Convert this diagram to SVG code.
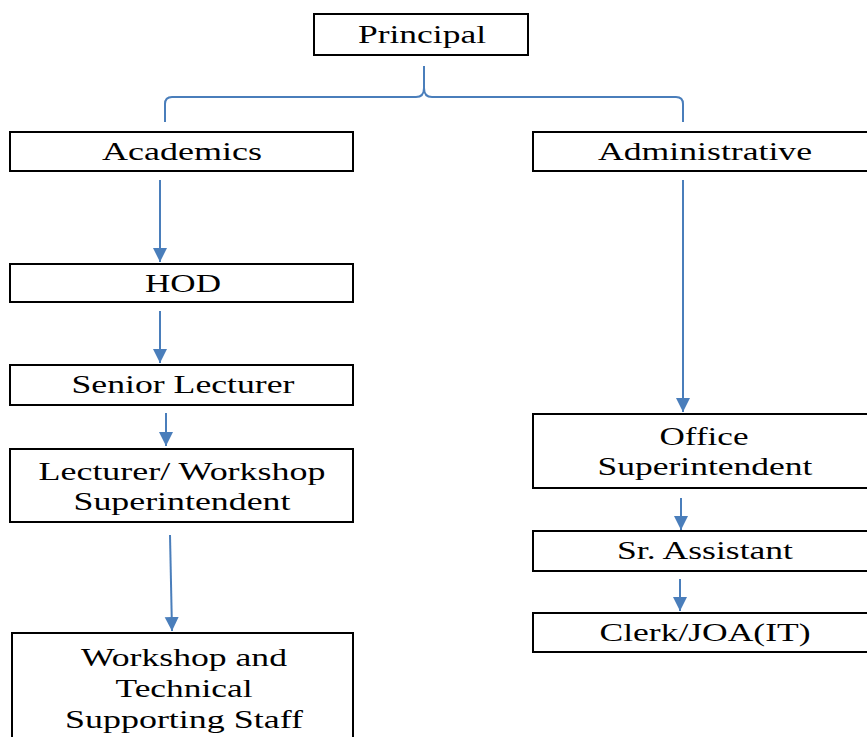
<svg xmlns="http://www.w3.org/2000/svg" width="867" height="737" viewBox="0 0 867 737">
<style>
.box{fill:#fff;stroke:#000;stroke-width:2}
.t{font-family:"Liberation Serif","Times New Roman",serif;font-size:26px;fill:#000;text-anchor:middle}
.c{fill:none;stroke:#4a7ebb;stroke-width:2}
</style>
<defs>
<marker id="ah" markerUnits="userSpaceOnUse" markerWidth="16" markerHeight="16" refX="14" refY="7" orient="auto">
<path d="M0,0 L14,7 L0,14 Z" fill="#4a7ebb"/>
</marker>
</defs>
<rect width="867" height="737" fill="#fff"/>
<g id="connectors">
<path class="c" d="M165,122 L165,104 Q165,97 172,97 L416,97 Q424,97 424,88 L424,66 M424,88 Q424,97 432,97 L676,97 Q683,97 683,104 L683,122"/>
<line class="c" x1="160" y1="180" x2="160" y2="262" marker-end="url(#ah)"/>
<line class="c" x1="160" y1="311" x2="160" y2="363" marker-end="url(#ah)"/>
<line class="c" x1="166" y1="413" x2="166" y2="446" marker-end="url(#ah)"/>
<line class="c" x1="170" y1="535" x2="172" y2="631" marker-end="url(#ah)"/>
<line class="c" x1="683" y1="180" x2="683" y2="412" marker-end="url(#ah)"/>
<line class="c" x1="681" y1="498" x2="681" y2="530" marker-end="url(#ah)"/>
<line class="c" x1="680" y1="579" x2="680" y2="611" marker-end="url(#ah)"/>
</g>
<g id="principal">
<rect class="box" x="314" y="14" width="214" height="41"/>
<text class="t" x="422" y="43" textLength="128" lengthAdjust="spacingAndGlyphs">Principal</text>
</g>
<g id="academics">
<rect class="box" x="10" y="132" width="343" height="39"/>
<text class="t" x="182" y="160" textLength="160" lengthAdjust="spacingAndGlyphs">Academics</text>
</g>
<g id="administrative">
<rect class="box" x="533" y="132" width="340" height="39"/>
<text class="t" x="705" y="160" textLength="214" lengthAdjust="spacingAndGlyphs">Administrative</text>
</g>
<g id="hod">
<rect class="box" x="10" y="264" width="343" height="38"/>
<text class="t" x="183" y="292" textLength="76" lengthAdjust="spacingAndGlyphs">HOD</text>
</g>
<g id="senior-lecturer">
<rect class="box" x="10" y="365" width="343" height="40"/>
<text class="t" x="183" y="393" textLength="223" lengthAdjust="spacingAndGlyphs">Senior Lecturer</text>
</g>
<g id="lecturer">
<rect class="box" x="10" y="449" width="343" height="73"/>
<text class="t" x="182" y="480" textLength="287" lengthAdjust="spacingAndGlyphs">Lecturer/ Workshop</text>
<text class="t" x="182" y="510" textLength="217" lengthAdjust="spacingAndGlyphs">Superintendent</text>
</g>
<g id="workshop-staff">
<rect class="box" x="12" y="633" width="341" height="110"/>
<text class="t" x="184" y="666" textLength="206" lengthAdjust="spacingAndGlyphs">Workshop and</text>
<text class="t" x="184" y="697" textLength="137" lengthAdjust="spacingAndGlyphs">Technical</text>
<text class="t" x="184" y="728" textLength="238" lengthAdjust="spacingAndGlyphs">Supporting Staff</text>
</g>
<g id="office-superintendent">
<rect class="box" x="533" y="414" width="340" height="74"/>
<text class="t" x="704" y="445" textLength="89" lengthAdjust="spacingAndGlyphs">Office</text>
<text class="t" x="705" y="475" textLength="215" lengthAdjust="spacingAndGlyphs">Superintendent</text>
</g>
<g id="sr-assistant">
<rect class="box" x="533" y="531" width="340" height="40"/>
<text class="t" x="705" y="559" textLength="176" lengthAdjust="spacingAndGlyphs">Sr. Assistant</text>
</g>
<g id="clerk">
<rect class="box" x="533" y="613" width="340" height="39"/>
<text class="t" x="705" y="641" textLength="211" lengthAdjust="spacingAndGlyphs">Clerk/JOA(IT)</text>
</g>
</svg>
